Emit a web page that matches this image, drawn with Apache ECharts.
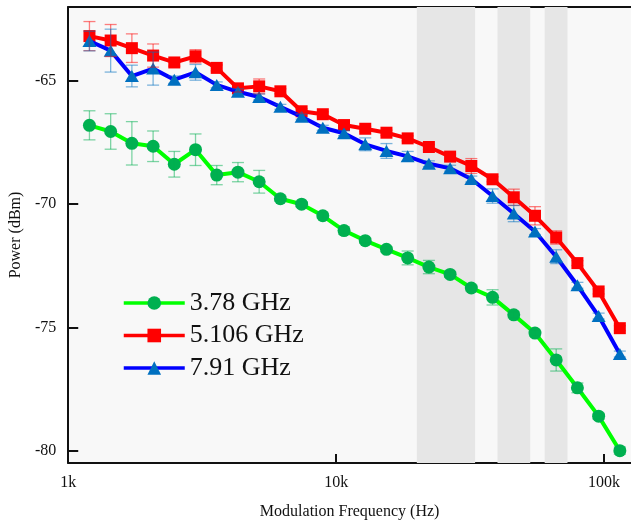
<!DOCTYPE html>
<html>
<head>
<meta charset="utf-8">
<script src="https://cdn.jsdelivr.net/npm/echarts@6/dist/echarts.min.js"></script>
<style>
html, body { margin: 0; padding: 0; background: #fff; }
#chart { width: 631px; height: 525px; }
</style>
</head>
<body>
<div id="chart"></div>
<script>
// modulation frequencies (Hz)
const freqs = [1200, 1440, 1728, 2074, 2488, 2986, 3583, 4300, 5160, 6192, 7430, 8916, 10699,
  12839, 15407, 18488, 22186, 26623, 31948, 38338, 46005, 55206, 66247, 79497, 95396, 114475];

const names = ['3.78 GHz', '5.106 GHz', '7.91 GHz'];

const power378 = [-66.80, -67.05, -67.53, -67.65, -68.38, -67.79, -68.82, -68.70, -69.09, -69.78,
  -70.00, -70.47, -71.07, -71.48, -71.83, -72.18, -72.55, -72.85, -73.40, -73.78,
  -74.49, -75.23, -76.32, -77.45, -78.60, -80.00];
const err378 = [0.59, 0.72, 0.88, 0.62, 0.52, 0.64, 0.39, 0.39, 0.46, 0.10,
  0.10, 0.10, 0.15, 0.10, 0.10, 0.28, 0.27, 0.12, 0.12, 0.31,
  0.12, 0.12, 0.45, 0.20, 0.12, 0.15];

const power5106 = [-63.18, -63.36, -63.67, -63.97, -64.25, -64.00, -64.47, -65.30, -65.22, -65.42,
  -66.23, -66.35, -66.79, -66.94, -67.10, -67.33, -67.68, -68.07, -68.45, -68.99,
  -69.72, -70.47, -71.35, -72.39, -73.54, -75.03];
const err5106 = [0.59, 0.65, 0.58, 0.47, 0.15, 0.27, 0.12, 0.15, 0.30, 0.10,
  0.10, 0.10, 0.10, 0.10, 0.10, 0.10, 0.10, 0.10, 0.30, 0.10,
  0.33, 0.37, 0.27, 0.10, 0.10, 0.10];

const power791 = [-63.38, -63.77, -64.80, -64.50, -64.95, -64.65, -65.16, -65.44, -65.65, -66.05,
  -66.45, -66.90, -67.12, -67.57, -67.84, -68.06, -68.36, -68.54, -68.98, -69.67,
  -70.38, -71.11, -72.13, -73.29, -74.54, -76.08];
const err791 = [0.40, 0.87, 0.44, 0.67, 0.15, 0.32, 0.12, 0.12, 0.12, 0.10,
  0.10, 0.10, 0.10, 0.26, 0.30, 0.20, 0.12, 0.12, 0.12, 0.29,
  0.33, 0.12, 0.28, 0.12, 0.12, 0.12];

// shaded frequency bands (Hz)
const bands = [[20000, 33000], [40000, 53000], [60000, 73000]];

const xTicks = [1000, 10000, 100000];
const yTicks = [-80, -75, -70, -65];

const font = '"Liberation Serif", "Times New Roman", serif';

let chart = echarts.init(document.getElementById('chart'));

function pairs(ys) {
  return freqs.map((f, i) => [f, ys[i]]);
}
function errData(ys, es) {
  return freqs.map((f, i) => [f, ys[i] - es[i], ys[i] + es[i]]);
}
function errSeries(ys, es, color) {
  return {
    type: 'custom',
    silent: true,
    z: 10,
    data: errData(ys, es),
    encode: { x: 0, y: [1, 2] },
    renderItem: function (params, api) {
      const x = api.value(0);
      const lo = api.coord([x, api.value(1)]);
      const hi = api.coord([x, api.value(2)]);
      const w = 6;
      const style = { stroke: color, lineWidth: 1.3, opacity: 0.5 };
      return {
        type: 'group',
        children: [
          { type: 'line', shape: { x1: lo[0], y1: lo[1], x2: hi[0], y2: hi[1] }, style: style },
          { type: 'line', shape: { x1: lo[0] - w, y1: lo[1], x2: lo[0] + w, y2: lo[1] }, style: style },
          { type: 'line', shape: { x1: hi[0] - w, y1: hi[1], x2: hi[0] + w, y2: hi[1] }, style: style }
        ]
      };
    }
  };
}

function kLabel(v) {
  const e = Math.log10(v);
  if (Math.abs(e - Math.round(e)) > 1e-6) return '';
  return Math.round(v / 1000) + 'k';
}

let option = {
  animation: false,
  grid: {
    left: 65, right: 0, top: 7, bottom: 58,
    show: true, backgroundColor: '#f8f8f8', borderWidth: 0
  },
  legend: {
    data: names,
    orient: 'vertical',
    left: 122,
    top: 290,
    padding: 0,
    itemWidth: 61,
    itemHeight: 17,
    itemGap: 6.5,
    lineStyle: { width: 3.5 },
    textStyle: { fontFamily: font, fontSize: 26, color: '#111', lineHeight: 26 }
  },
  xAxis: [
    {
      type: 'log',
      logBase: 10,
      min: 1000,
      max: 126000,
      name: 'Modulation Frequency (Hz)',
      nameLocation: 'middle',
      nameGap: 41,
      nameTextStyle: { fontFamily: font, fontSize: 16, color: '#111' },
      axisLine: { lineStyle: { color: '#111', width: 2 } },
      axisTick: { inside: true, length: 9, lineStyle: { color: '#111', width: 2 }, customValues: xTicks },
      axisLabel: { fontFamily: font, fontSize: 16, color: '#111', margin: 12, formatter: kLabel, customValues: xTicks },
      minorTick: { show: false },
      splitLine: { show: false }
    },
    {
      type: 'log',
      logBase: 10,
      min: 1000,
      max: 126000,
      position: 'top',
      axisLine: { lineStyle: { color: '#111', width: 2 } },
      axisTick: { show: false },
      axisLabel: { show: false },
      splitLine: { show: false }
    }
  ],
  yAxis: {
    type: 'value',
    min: -80.5,
    max: -62,
    name: 'Power (dBm)',
    nameLocation: 'middle',
    nameGap: 42,
    nameTextStyle: { fontFamily: font, fontSize: 16, color: '#111' },
    axisLine: { show: true, lineStyle: { color: '#111', width: 2 } },
    axisTick: { show: true, inside: true, length: 10, lineStyle: { color: '#111', width: 2 }, customValues: yTicks },
    axisLabel: { fontFamily: font, fontSize: 16, color: '#111', margin: 12, customValues: yTicks },
    splitLine: { show: false }
  },
  series: [
    {
      name: 'bands',
      type: 'line',
      data: [],
      z: 1,
      silent: true,
      markArea: {
        silent: true,
        itemStyle: { color: '#e6e6e6' },
        data: bands.map(b => [{ xAxis: b[0] }, { xAxis: b[1] }])
      }
    },
    {
      name: names[0],
      type: 'line',
      z: 3,
      data: pairs(power378),
      symbol: 'circle',
      symbolSize: 13,
      lineStyle: { color: '#00ff00', width: 4 },
      itemStyle: { color: '#00b050' }
    },
    {
      name: names[1],
      type: 'line',
      z: 4,
      data: pairs(power5106),
      symbol: 'rect',
      symbolSize: 12,
      lineStyle: { color: '#ff0000', width: 4 },
      itemStyle: { color: '#ff0000' }
    },
    {
      name: names[2],
      type: 'line',
      z: 5,
      data: pairs(power791),
      symbol: 'triangle',
      symbolSize: [14, 12],
      lineStyle: { color: '#0000ff', width: 4 },
      itemStyle: { color: '#0070c0' }
    },
    errSeries(power378, err378, '#00b050'),
    errSeries(power5106, err5106, '#ff0000'),
    errSeries(power791, err791, '#0070c0')
  ]
};

option && chart.setOption(option);
</script>
</body>
</html>
